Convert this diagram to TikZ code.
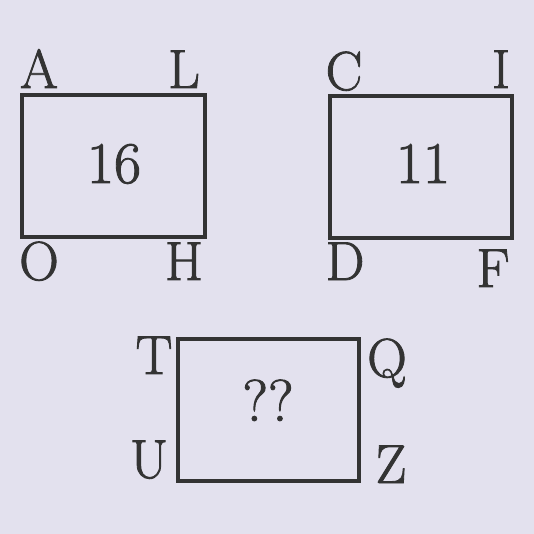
\documentclass[tikz,border=0pt]{standalone}
\usepackage{fontspec}
\newfontfamily\lblfont[FakeBold=1.5]{Latin Modern Roman}
\definecolor{bg}{HTML}{E3E1EE}
\definecolor{ink}{HTML}{333333}
\begin{document}
\begin{tikzpicture}[x=1pt,y=-1pt,
  box/.style={draw=ink,line width=3.2pt,inner sep=0pt},
  lbl/.style={anchor=base,text=ink,inner sep=0pt,font=\lblfont\fontsize{55}{60}\selectfont},
  num/.style={anchor=base,text=ink,inner sep=0pt,font=\lblfont\fontsize{59}{64}\selectfont}]
\fill[bg] (0,0) rectangle (534,534);
\useasboundingbox (0,0) rectangle (534,534);
\node[box,minimum width=183pt,minimum height=142pt] (r1) at (113.5,166) {};
\node[box,minimum width=182pt,minimum height=142pt] (r2) at (421,167) {};
\node[box,minimum width=181pt,minimum height=142pt] (r3) at (268.5,410) {};
\node[num] (n1) at (114,183) {16};
\node[num] (n2) at (423,183) {11};
\node[num] (n3) at (268,421) {??};
\node[lbl] (A) at (39,88) {A};
\node[lbl] (L) at (184,88) {L};
\node[lbl] (O) at (39,280) {O};
\node[lbl] (H) at (184,280) {H};
\node[lbl] (C) at (344,90) {C};
\node[lbl] (I) at (501,88) {I};
\node[lbl] (D) at (345,280) {D};
\node[lbl] (F) at (493,287) {F};
\node[lbl] (T) at (154,374) {T};
\node[lbl] (Q) at (387,377) {Q};
\node[lbl] (U) at (149,478) {U};
\node[lbl] (Z) at (391,483) {Z};
\end{tikzpicture}
\end{document}
